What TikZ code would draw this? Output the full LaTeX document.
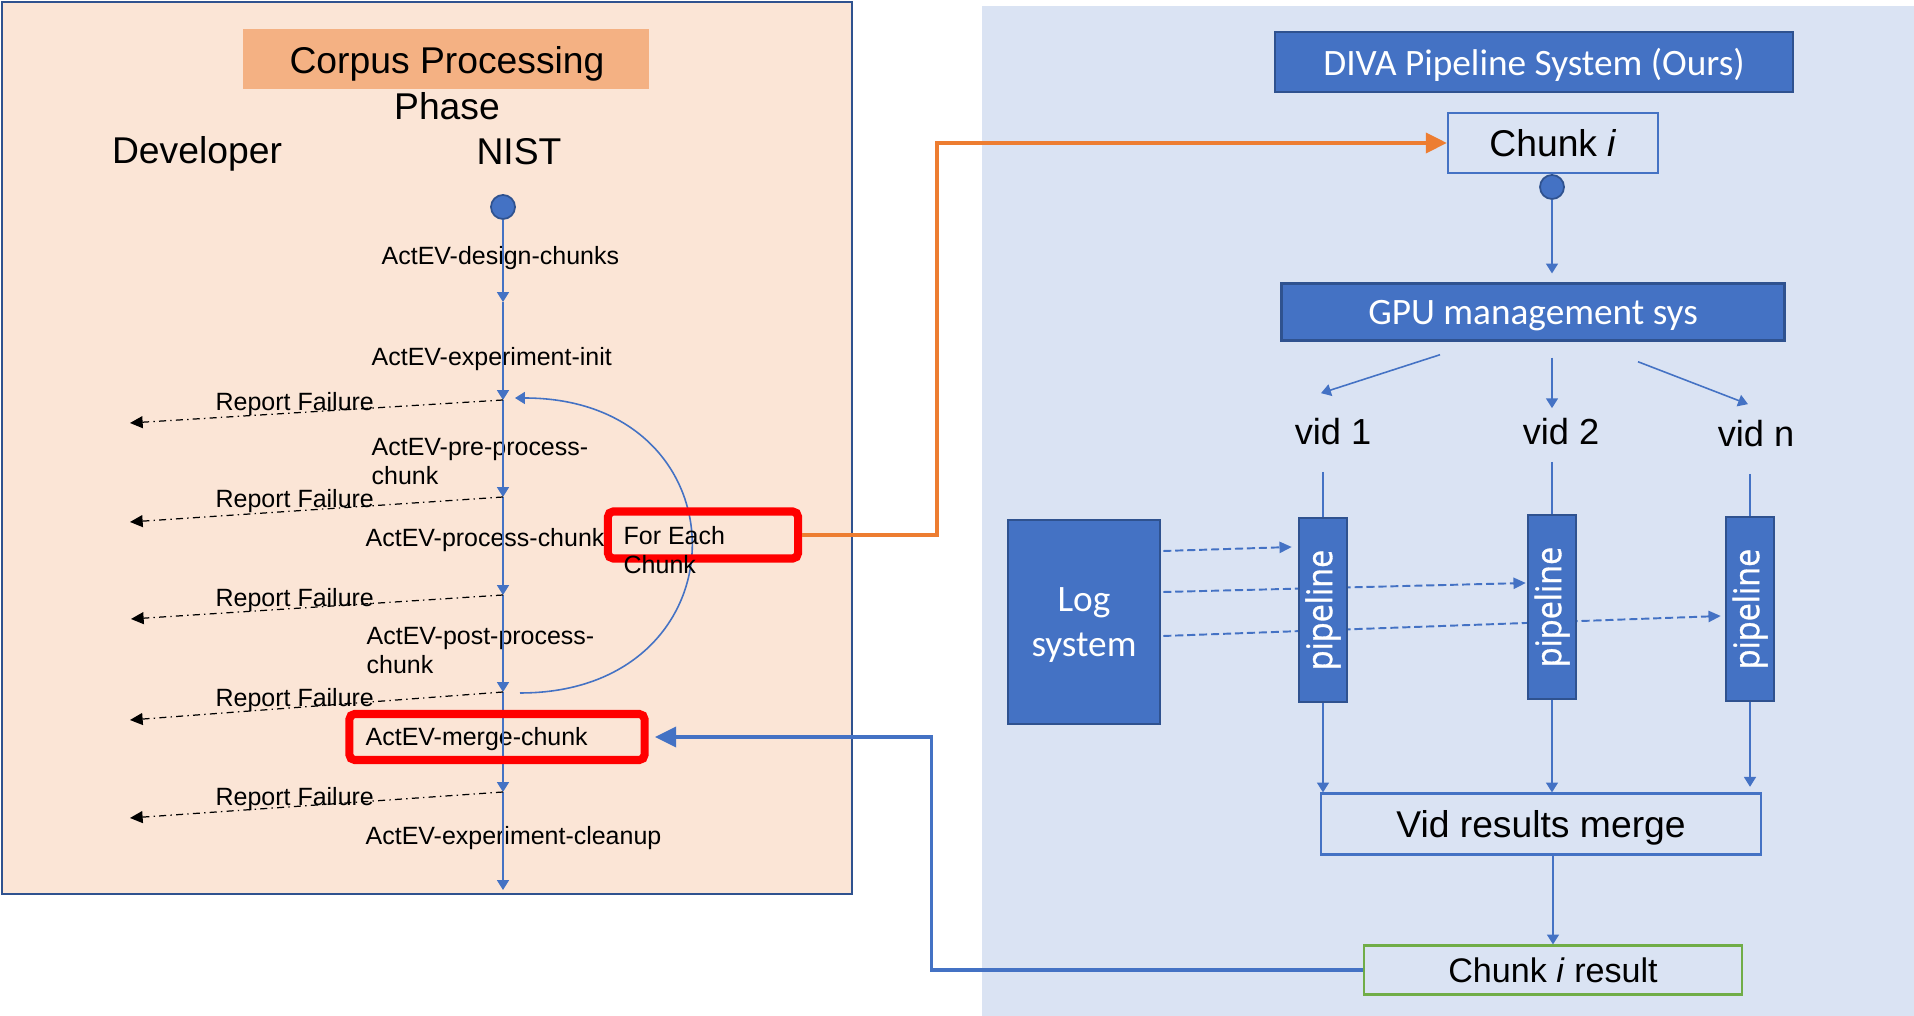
\documentclass[tikz,border=0pt]{standalone}
\usepackage{fontspec}
\setmainfont{Liberation Sans}
\newfontfamily\calibrifont{Carlito}
\newfontfamily\pipefont[FakeBold=1]{Open Sans}
\usepackage{graphicx}
\usepackage{tikz}
\usetikzlibrary{calc,arrows.meta,backgrounds}
\definecolor{peach}{HTML}{FBE5D6}
\definecolor{peachtitle}{HTML}{F4B183}
\definecolor{paleblue}{HTML}{DAE3F3}
\definecolor{boxblue}{HTML}{4472C4}
\definecolor{edgeblue}{HTML}{2F528F}
\definecolor{linkorange}{HTML}{ED7D31}
\definecolor{resultgreen}{HTML}{70AD47}
\newcommand{\bigtxt}{\fontsize{10.6pt}{12.8pt}\selectfont}
\newcommand{\smalltxt}{\fontsize{7.1pt}{8.25pt}\selectfont}
\newcommand{\thinline}{0.45pt}
\newcommand{\redline}{2.3pt}
\newcommand{\pipeword}{\rotatebox{90}{\scalebox{0.92}[1]{pipeline}}}
\tikzset{
  steptext/.style={inner sep=0pt, anchor=west, align=left, text depth=0pt, font=\smalltxt},
  bigtext/.style={inner sep=0pt, text depth=0pt, font=\bigtxt},
  flow/.style={draw=boxblue, line width=\thinline, -{Triangle[width=3.4pt,length=2.8pt]}},
  fail/.style={draw=black, line width=0.35pt, dash pattern=on 2pt off 1.2pt on 0.4pt off 1.2pt, -{Triangle[width=3.4pt,length=3.6pt]}},
  loglink/.style={draw=boxblue, line width=0.55pt, dash pattern=on 2.3pt off 1.1pt, -{Triangle[width=3.2pt,length=3.5pt]}},
  bigarrow/.style={line width=1pt, -{Triangle[width=5.7pt,length=6pt]}},
  redbox/.style={draw=red, line width=\redline, rounded corners=1.5pt, inner sep=0pt},
  bluebox/.style={draw=edgeblue, fill=boxblue, line width=0.7pt, inner sep=0pt, text depth=0pt, text=white, font=\calibrifont\bigtxt},
  openbox/.style={draw=boxblue, line width=0.6pt, inner sep=0pt, text depth=0pt, font=\bigtxt},
  pipebox/.style={bluebox, minimum width=0.48cm, minimum height=1.84cm, font=\pipefont\fontsize{10pt}{12pt}\selectfont},
  startdot/.style={circle, fill=boxblue, draw=edgeblue, line width=0.5pt, inner sep=0pt, minimum size=0.24cm}
}

\begin{document}
\begin{tikzpicture}[x=0.01cm, y=-0.01cm]
\useasboundingbox (0,0) rectangle (1914,1016);
\begin{scope}[on background layer]
\fill[paleblue] (982,6) rectangle (1914,1016);
\draw[fill=peach, draw=edgeblue, line width=0.6pt] (2,2) rectangle (852,894);
\end{scope}
%corpus side
\node[fill=peachtitle, minimum width=4.06cm, minimum height=0.6cm, inner sep=0pt] (ctitle) at (446,59) {};
\node[bigtext, align=center] (phase) at (447,83) {Corpus Processing\\Phase};
\node[bigtext] (dev) at (197,150) {Developer};
\node[bigtext] (nist) at (519,151) {NIST};
\node[startdot] (dot1) at (503,207) {};
\coordinate (t1) at (503,302);
\coordinate (t2) at (503,400);
\coordinate (t3) at (503,497);
\coordinate (t4) at (503,595);
\coordinate (t5) at (503,692);
\coordinate (t6) at (503,792);
\coordinate (t7) at (503,890);
\coordinate (f1) at (130,423);
\coordinate (f2) at (130,522);
\coordinate (f3) at (131,619);
\coordinate (f4) at (130,720);
\coordinate (f5) at (130,818);
\node[steptext] (design) at (381,255) {ActEV-design-chunks};
\node[steptext] (init) at (371,356) {ActEV-experiment-init};
\node[steptext] (pre) at (371,461) {ActEV-pre-process-\\chunk};
\node[steptext] (proc) at (365,537) {ActEV-process-chunk};
\node[steptext] (post) at (366,650) {ActEV-post-process-\\chunk};
\node[steptext] (merge) at (365,736) {ActEV-merge-chunk};
\node[steptext] (cleanup) at (365,835) {ActEV-experiment-cleanup};
\node[steptext] (r1) at (215,401) {Report Failure};
\node[steptext] (r2) at (215,498) {Report Failure};
\node[steptext] (r3) at (215,597) {Report Failure};
\node[steptext] (r4) at (215,697) {Report Failure};
\node[steptext] (r5) at (215,796) {Report Failure};
\draw[flow] (dot1) -- (t1);
\draw[flow] (t1) -- (t2);
\draw[flow] (t2) -- (t3);
\draw[flow] (t3) -- (t4);
\draw[flow] (t4) -- (t5);
\draw[flow] (t5) -- (t6);
\draw[flow] (t6) -- (t7);
\draw[fail] (t2) -- (f1);
\draw[fail] (t3) -- (f2);
\draw[fail] (t4) -- (f3);
\draw[fail] (t5) -- (f4);
\draw[fail] (t6) -- (f5);
%loop over chunks
\coordinate (lp1) at (520,693);
\coordinate (lp2) at (515,398);
\draw[flow] (lp1) .. controls (749,693) and (749,398) .. (lp2);
\node[redbox, minimum width=1.9cm, minimum height=0.47cm] (foreach) at (703,535) {};
\node[steptext] (foreachtext) at (623,550) {For Each\\Chunk};
\node[redbox, minimum width=2.95cm, minimum height=0.46cm] (mergebox) at (497,737) {};
%pipeline side
\node[bluebox, minimum width=5.18cm, minimum height=0.6cm] (diva) at (1534,62) {DIVA Pipeline System (Ours)};
\node[openbox, minimum width=2.1cm, minimum height=0.6cm] (chunk) at (1553,143) {Chunk \textit{i}};
\node[startdot] (dot2) at (1552,187) {};
\node[bluebox, minimum width=5.03cm, minimum height=0.57cm] (gpu) at (1533,312) {GPU management sys};
\node[bigtext, font=\fontsize{10.3pt}{12pt}\selectfont] (vid1) at (1333,431) {vid 1};
\node[bigtext, font=\fontsize{10.3pt}{12pt}\selectfont] (vid2) at (1561,431) {vid 2};
\node[bigtext, font=\fontsize{10.3pt}{12pt}\selectfont] (vid3) at (1756,433) {vid n};
\node[bluebox, minimum width=1.52cm, minimum height=2.04cm, align=center] (log) at (1084,622) {Log\\system};
\node[pipebox] (p1) at (1323,610) {\pipeword};
\node[pipebox] (p2) at (1552,607) {\pipeword};
\node[pipebox] (p3) at (1750,609) {\pipeword};
\node[openbox, minimum width=4.4cm, minimum height=0.61cm] (vidmerge) at (1541,824) {Vid results merge};
\node[openbox, draw=resultgreen, minimum width=3.77cm, minimum height=0.49cm, font=\fontsize{9.7pt}{11pt}\selectfont] (result) at (1553,970) {Chunk \textit{i} result};
\draw[flow, shorten >=2.5pt] (dot2) -- (dot2 |- gpu.north);
\draw[flow] ($(gpu.south)+(-93,13)$) -- ($(vid1.north)+(-12,-24)$);
\draw[flow] ($(gpu.south)+(19,16)$) -- ($(vid2.north)+(-9,-9)$);
\draw[flow] ($(gpu.south)+(105,20)$) -- ($(vid3.north)+(-8,-15)$);
\draw[draw=boxblue, line width=\thinline, shorten <=0.27cm] (vid1.south -| p1.north) -- (p1.north);
\draw[draw=boxblue, line width=\thinline, shorten <=0.17cm] (vid2.south -| p2.north) -- (p2.north);
\draw[draw=boxblue, line width=\thinline, shorten <=0.27cm] (vid3.south -| p3.north) -- (p3.north);
\draw[flow] (p1.south) -- (p1.south |- vidmerge.north);
\draw[flow] (p2.south) -- (p2.south |- vidmerge.north);
\draw[flow, shorten >=1.6pt] (p3.south) -- (p3.south |- vidmerge.north);
\draw[flow] (vidmerge.south -| result.north) -- (result.north);
\begin{scope}[on background layer]
\draw[loglink] ($(log.east)+(2,-71)$) -- ($(p1.west)+(-6,-63)$);
\draw[loglink] ($(log.east)+(2,-30)$) -- ($(p2.west)+(-1,-24)$);
\draw[loglink] ($(log.east)+(2,14)$) -- ($(p3.west)+(-4,7)$);
\end{scope}
%links between the two sides
\draw[linkorange, bigarrow] (foreach.east) -- ++(135,0) |- (chunk.west);
\draw[boxblue, bigarrow, shorten >=1.8pt] (result.west) -- ++(-432,0) |- (mergebox.east);
\end{tikzpicture}
\end{document}
